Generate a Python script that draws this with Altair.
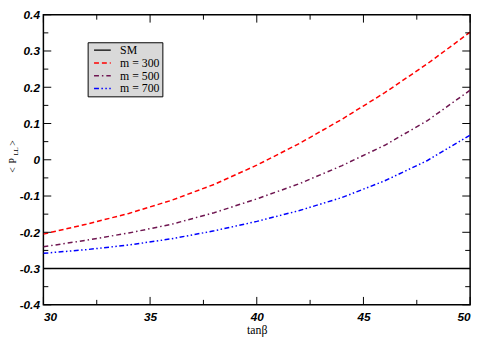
import altair as alt
import pandas as pd

tanb = [30, 32, 34, 36, 38, 40, 42, 44, 46, 48, 50]
sm = [-0.3] * 11
m300 = [-0.205, -0.178, -0.148, -0.112, -0.068, -0.015, 0.045, 0.112, 0.185, 0.265, 0.352]
m500 = [-0.240, -0.222, -0.202, -0.178, -0.146, -0.108, -0.066, -0.016, 0.040, 0.108, 0.192]
m700 = [-0.258, -0.248, -0.235, -0.218, -0.196, -0.170, -0.140, -0.104, -0.058, -0.002, 0.068]

series_names = ["SM", "m = 300", "m = 500", "m = 700"]
series_vals = [sm, m300, m500, m700]
colors = ["#000000", "#ff0000", "#6e1550", "#0000ff"]
dashes = [[1, 0], [5, 3], [5, 3, 1.5, 3], [5, 2.5, 1.5, 2.5, 1.5, 2.5]]

x_major = [30, 35, 40, 45, 50]
x_minor = [32.5, 37.5, 42.5, 47.5]
y_major = [-0.4, -0.3, -0.2, -0.1, 0, 0.1, 0.2, 0.3, 0.4]
y_minor = [-0.35, -0.25, -0.15, -0.05, 0.05, 0.15, 0.25, 0.35]

W, H = 434, 295

rows = []
for name, vals in zip(series_names, series_vals):
    for t, v in zip(tanb, vals):
        rows.append({"tanb": t, "P": v, "series": name})
df = pd.DataFrame(rows)

xs = alt.Scale(domain=[30, 50], nice=False, zero=False)
ys = alt.Scale(domain=[-0.4, 0.4], nice=False, zero=False)

ax_x = alt.Axis(
    values=x_major, ticks=False, domain=False, grid=False, labelOverlap=False,
    labelFont="Liberation Sans", labelFontSize=12, labelFontWeight="bold",
    labelFontStyle="italic", labelColor="black", labelPadding=7,
    title="tanβ", titleFont="Liberation Serif", titleFontSize=12,
    titleFontWeight="normal", titleColor="black", titlePadding=2)
ax_y = alt.Axis(
    values=y_major, ticks=False, domain=False, grid=False, labelOverlap=False,
    labelExpr="datum.value == 0 ? '0' : (datum.value < 0 ? '-' + format(-datum.value, '.1f') : format(datum.value, '.1f'))",
    labelFont="Liberation Sans", labelFontSize=12, labelFontWeight="bold",
    labelFontStyle="italic", labelColor="black", labelPadding=4, title="")

leg = alt.Legend(
    title=None, orient="none", legendX=45, legendY=28,
    fillColor="#d9d9d9", strokeColor="black", padding=2,
    labelFont="Liberation Serif", labelFontSize=12, labelColor="black",
    symbolType="M-1.7,0H1.7", symbolSize=100, symbolStrokeWidth=1.5,
    symbolOffset=7, rowPadding=1, labelOffset=12, cornerRadius=0, labelLimit=200,
)

lines = alt.Chart(df).mark_line(strokeWidth=1.5, clip=True).encode(
    x=alt.X("tanb:Q", scale=xs, axis=ax_x),
    y=alt.Y("P:Q", scale=ys, axis=ax_y),
    color=alt.Color("series:N", scale=alt.Scale(domain=series_names, range=colors), legend=leg),
    strokeDash=alt.StrokeDash("series:N", scale=alt.Scale(domain=series_names, range=dashes), legend=leg),
)

xmaj = pd.DataFrame({"v": x_major})
xmin = pd.DataFrame({"v": x_minor})
ymaj = pd.DataFrame({"v": y_major})
ymin = pd.DataFrame({"v": y_minor})

def xt(d, y0, y1):
    return alt.Chart(d).mark_rule(color="black", strokeWidth=1).encode(
        x=alt.X("v:Q", scale=xs, axis=ax_x), y=alt.value(y0), y2=alt.value(y1))

def yt(d, x0, x1):
    return alt.Chart(d).mark_rule(color="black", strokeWidth=1).encode(
        y=alt.Y("v:Q", scale=ys, axis=ax_y), x=alt.value(x0), x2=alt.value(x1))

ticks = [
    xt(xmaj, H, H - 8), xt(xmin, H, H - 5), xt(xmaj, 0, 8), xt(xmin, 0, 5),
    yt(ymaj, 0, 8), yt(ymin, 0, 5), yt(ymaj, W, W - 8), yt(ymin, W, W - 5),
]

title_parts = ["<", "P", "LL", ">"]
title_y = [170, 160.5, 151, 142.5]
title_x = [13, 13, 16, 13]
title_size = [10, 10, 7, 10]
ttl = []
for s, ya, xa, fs in zip(title_parts, title_y, title_x, title_size):
    ttl.append(alt.Chart(pd.DataFrame({"s": [s]})).mark_text(
        angle=270, align="center", baseline="middle", font="Liberation Serif",
        fontSize=fs, color="black").encode(
        text="s:N", x=alt.value(xa - 44), y=alt.value(ya - 12)))

chart = alt.layer(lines, *ticks, *ttl).properties(
    width=W, height=H,
    autosize=alt.AutoSizeParams(type="none"),
    padding={"left": 36, "top": 4, "right": 8, "bottom": 36},
).configure_view(stroke="black", strokeWidth=1.5)

chart.save("out.html", embed_options={"renderer": "svg", "actions": False})
